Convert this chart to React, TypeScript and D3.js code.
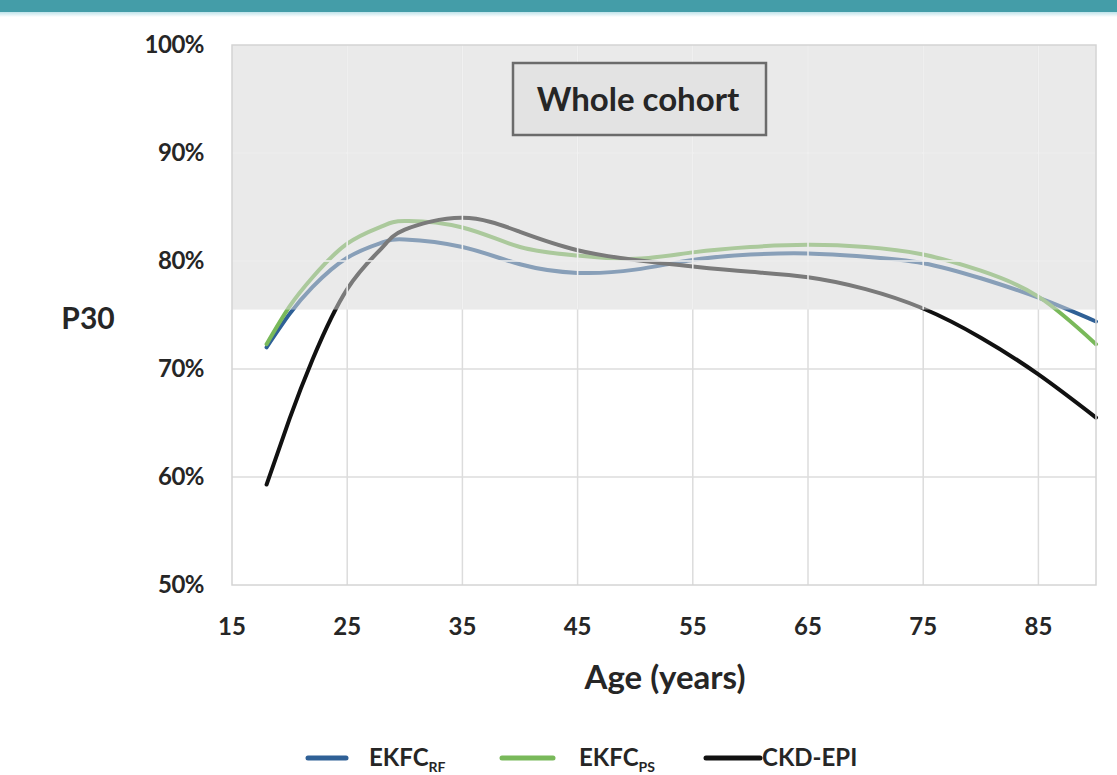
import React from "react";
import * as d3 from "d3";

// Age (years) at which the smoothed P30 curves are sampled
const ages = [18, 20, 22, 25, 28, 30, 35, 40, 45, 50, 55, 60, 65, 70, 75, 80, 85, 90];
// P30 (%) per equation
const ekfcRF = [72.0, 75.1, 77.6, 80.3, 81.7, 82.0, 81.3, 79.7, 78.9, 79.2, 80.1, 80.6, 80.7, 80.4, 79.8, 78.4, 76.6, 74.4];
const ekfcPS = [72.3, 75.8, 78.5, 81.6, 83.2, 83.7, 83.1, 81.3, 80.5, 80.2, 80.8, 81.3, 81.5, 81.3, 80.6, 79.1, 76.7, 72.3];
const ckdEpi = [59.3, 65.4, 70.9, 77.4, 81.2, 82.9, 84.0, 82.7, 81.0, 80.1, 79.5, 79.0, 78.5, 77.4, 75.6, 72.9, 69.5, 65.5];

const xTicks = [15, 25, 35, 45, 55, 65, 75, 85];
const yTicks = [50, 60, 70, 80, 90, 100];
const bandFloor = 75.5;

const seriesList = [
  { key: "rf", label: "EKFC", sub: "RF", values: ekfcRF, color: "#2f6096" },
  { key: "ps", label: "EKFC", sub: "PS", values: ekfcPS, color: "#79b95a" },
  { key: "ckd", label: "CKD-EPI", sub: "", values: ckdEpi, color: "#111111" },
];

const W = 1117;
const H = 775;
const FONT = "Lato, 'Open Sans', sans-serif";
const INK = "#262626";

export default function App() {
  const x = d3.scaleLinear().domain([15, 90]).range([232, 1096]);
  const y = d3.scaleLinear().domain([50, 100]).range([585, 45]);

  const line = d3
    .line<[number, number]>()
    .x((d) => x(d[0]))
    .y((d) => y(d[1]))
    .curve(d3.curveNatural);

  const [x0, x1] = x.range();
  const [yb, yt] = y.range();

  return (
    <svg
      width={W}
      height={H}
      style={{ position: "absolute", left: 0, top: 0, background: "#ffffff" }}
      fontFamily={FONT}
    >
      <defs>
        <linearGradient id="barFade" x1="0" y1="0" x2="0" y2="1">
          <stop offset="0" stopColor="#bfe3ea" />
          <stop offset="1" stopColor="#ffffff" />
        </linearGradient>
      </defs>

      {/* header strip */}
      <rect x={0} y={0} width={W} height={12} fill="#449da8" />
      <rect x={0} y={12} width={W} height={5} fill="url(#barFade)" />

      {/* grid */}
      {xTicks.slice(1).map((t) => (
        <line key={`vx${t}`} x1={x(t)} x2={x(t)} y1={yt} y2={yb} stroke="#dcdcdc" strokeWidth={1.5} />
      ))}
      {yTicks.slice(1, -1).map((t) => (
        <line key={`hy${t}`} x1={x0} x2={x1} y1={y(t)} y2={y(t)} stroke="#dcdcdc" strokeWidth={1.5} />
      ))}

      {/* curves */}
      {seriesList.map((s) => (
        <path
          key={s.key}
          d={line(ages.map((a, i) => [a, s.values[i]] as [number, number])) || ""}
          fill="none"
          stroke={s.color}
          strokeWidth={4}
          strokeLinecap="round"
        />
      ))}

      {/* shaded acceptable zone */}
      <rect
        x={x0}
        y={yt}
        width={x1 - x0}
        height={y(bandFloor) - yt}
        fill="#d8d8d8"
        fillOpacity={0.53}
      />
      {xTicks.slice(1).map((t) => (
        <line key={`bx${t}`} x1={x(t)} x2={x(t)} y1={yt} y2={y(bandFloor)} stroke="#f1f1f1" strokeWidth={1.5} />
      ))}
      {yTicks.slice(1, -1)
        .filter((t) => t > bandFloor)
        .map((t) => (
          <line key={`by${t}`} x1={x0} x2={x1} y1={y(t)} y2={y(t)} stroke="#f1f1f1" strokeWidth={1.5} />
        ))}

      {/* plot frame */}
      <rect x={x0} y={yt} width={x1 - x0} height={yb - yt} fill="none" stroke="#d4d4d4" strokeWidth={1.5} />

      {/* y tick labels */}
      {yTicks.map((t) => (
        <text
          key={`yl${t}`}
          x={204}
          y={y(t)}
          dy="0.35em"
          textAnchor="end"
          fontSize={24}
          fontWeight={700}
          fill={INK}
          letterSpacing={-0.5}
        >
          {`${t}%`}
        </text>
      ))}

      {/* x tick labels */}
      {xTicks.map((t) => (
        <text
          key={`xl${t}`}
          x={x(t)}
          y={627}
          dy="0.35em"
          textAnchor="middle"
          fontSize={24}
          fontWeight={700}
          fill={INK}
        >
          {t}
        </text>
      ))}

      {/* axis titles */}
      <text x={88} y={318} dy="0.35em" textAnchor="middle" fontSize={30} fontWeight={700} fill={INK}>
        P30
      </text>
      <text x={665} y={677} dy="0.35em" textAnchor="middle" fontSize={33} fontWeight={700} fill={INK}>
        Age (years)
      </text>

      {/* panel title */}
      <rect x={513} y={63} width={253} height={72} fill="#e3e3e3" stroke="#6b6b6b" strokeWidth={2.5} />
      <text x={638} y={99} dy="0.35em" textAnchor="middle" fontSize={33} fontWeight={700} fill={INK}>
        Whole cohort
      </text>

      {/* legend */}
      {[
        { s: seriesList[0], lx0: 308, lx1: 346, tx: 369 },
        { s: seriesList[1], lx0: 502, lx1: 553, tx: 579 },
        { s: seriesList[2], lx0: 706, lx1: 760, tx: 762 },
      ].map(({ s, lx0, lx1, tx }) => (
        <g key={`lg${s.key}`}>
          <line x1={lx0} x2={lx1} y1={758} y2={758} stroke={s.color} strokeWidth={5} strokeLinecap="round" />
          <text x={tx} y={758} dy="0.35em" fontSize={24} fontWeight={700} fill={INK}>
            {s.label}
            {s.sub && (
              <tspan fontSize={14} dy={6}>
                {s.sub}
              </tspan>
            )}
          </text>
        </g>
      ))}
    </svg>
  );
}
